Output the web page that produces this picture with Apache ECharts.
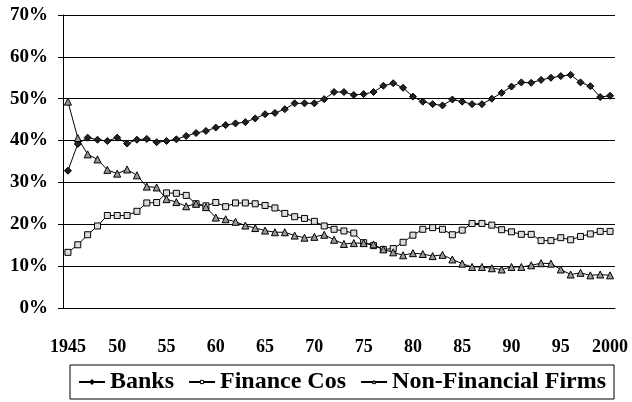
<!DOCTYPE html>
<html>
<head>
<meta charset="utf-8">
<script src="https://cdn.jsdelivr.net/npm/echarts@6/dist/echarts.min.js"></script>
<style>
  html, body { margin: 0; padding: 0; background: #fff; }
  #chart { width: 632px; height: 402px; }
</style>
</head>
<body>
<div id="chart"></div>
<script>
// years 1945-2000, one point per year
var years = ['1945','1946','1947','1948','1949','1950','1951','1952','1953','1954',
  '1955','1956','1957','1958','1959','1960','1961','1962','1963','1964',
  '1965','1966','1967','1968','1969','1970','1971','1972','1973','1974',
  '1975','1976','1977','1978','1979','1980','1981','1982','1983','1984',
  '1985','1986','1987','1988','1989','1990','1991','1992','1993','1994',
  '1995','1996','1997','1998','1999','2000'];

var banks = [32.8, 39.2, 40.7, 40.2, 39.9, 40.7, 39.3, 40.2, 40.4, 39.6,
  39.9, 40.3, 41.1, 41.8, 42.3, 43.1, 43.7, 44.1, 44.4, 45.3,
  46.3, 46.6, 47.5, 48.9, 48.9, 48.9, 49.9, 51.6, 51.6, 50.9,
  51.1, 51.6, 53.1, 53.7, 52.6, 50.5, 49.3, 48.7, 48.4, 49.8,
  49.3, 48.7, 48.7, 50.0, 51.4, 52.9, 53.9, 53.8, 54.5, 55.0,
  55.4, 55.7, 53.9, 53.0, 50.4, 50.7];

var financeCos = [13.3, 15.1, 17.5, 19.6, 22.1, 22.1, 22.1, 23.1, 25.1, 25.2,
  27.5, 27.4, 26.9, 24.9, 24.4, 25.2, 24.2, 25.1, 25.1, 24.9,
  24.5, 23.9, 22.6, 21.8, 21.4, 20.7, 19.6, 18.8, 18.4, 17.9,
  15.6, 14.9, 14.0, 14.2, 15.7, 17.4, 18.8, 19.2, 18.8, 17.5,
  18.6, 20.2, 20.2, 19.8, 18.7, 18.2, 17.6, 17.6, 16.1, 16.1,
  16.8, 16.3, 17.1, 17.7, 18.3, 18.3];

var nonFinancial = [49.3, 40.6, 36.7, 35.5, 33.0, 32.1, 33.1, 31.7, 29.0, 28.8,
  26.0, 25.3, 24.3, 24.9, 24.1, 21.6, 21.2, 20.6, 19.7, 19.1,
  18.5, 18.1, 18.1, 17.3, 16.8, 17.0, 17.5, 16.3, 15.3, 15.5,
  15.5, 15.2, 14.0, 13.3, 12.6, 13.1, 12.9, 12.4, 12.7, 11.6,
  10.6, 9.8, 9.8, 9.5, 9.2, 9.8, 9.8, 10.2, 10.7, 10.6,
  9.2, 8.0, 8.4, 7.8, 8.0, 7.8];

var font = 'Liberation Serif';

function lineSeries(name, data, symbol, size, fill) {
  return {
    name: name,
    type: 'line',
    data: data,
    symbol: symbol,
    symbolSize: size,
    showAllSymbol: true,
    lineStyle: { color: '#000', width: 1 },
    itemStyle: { color: fill, borderColor: '#000', borderWidth: 1 },
    emphasis: { disabled: true },
    animation: false
  };
}

var chart = echarts.init(document.getElementById('chart'));
chart.setOption({
  backgroundColor: '#fff',
  grid: { left: 63, right: 17, top: 15, bottom: 94 },
  legend: {
    left: 70,
    top: 365,
    padding: [5, 8],
    borderColor: '#000',
    borderWidth: 1,
    itemWidth: 26,
    itemHeight: 4,
    itemGap: 14,
    textStyle: { fontFamily: font, fontWeight: 'bold', fontSize: 24, color: '#000' },
    data: [
      { name: 'Banks', itemStyle: { color: '#000', borderColor: '#000' } },
      { name: 'Finance Cos', itemStyle: { color: '#fff', borderColor: '#000', borderWidth: 1 } },
      { name: 'Non-Financial Firms', itemStyle: { color: '#fff', borderColor: '#000', borderWidth: 1 } }
    ]
  },
  xAxis: {
    type: 'category',
    data: years,
    boundaryGap: true,
    axisLine: { lineStyle: { color: '#000', width: 1 } },
    axisTick: { interval: 4, length: 5, lineStyle: { color: '#000' } },
    axisLabel: {
      interval: 4,
      margin: 30,
      fontFamily: font,
      fontWeight: 'bold',
      fontSize: 18,
      color: '#000',
      formatter: function (v, i) { return (i === 0 || v === '2000') ? v : v.slice(2); }
    },
    splitLine: { show: false }
  },
  yAxis: {
    type: 'value',
    min: 0,
    max: 70,
    interval: 10,
    axisLine: { show: true, lineStyle: { color: '#000', width: 1 } },
    axisTick: { show: true, length: 5, lineStyle: { color: '#000' } },
    axisLabel: {
      margin: 15,
      fontFamily: font,
      fontWeight: 'bold',
      fontSize: 19,
      color: '#000',
      formatter: '{value}%'
    },
    splitLine: { lineStyle: { color: '#000', width: 1 } }
  },
  series: [
    lineSeries('Banks', banks, 'diamond', 7, '#222'),
    lineSeries('Finance Cos', financeCos, 'rect', 6, '#ddd'),
    lineSeries('Non-Financial Firms', nonFinancial, 'triangle', 7, '#999')
  ]
});
</script>
</body>
</html>
